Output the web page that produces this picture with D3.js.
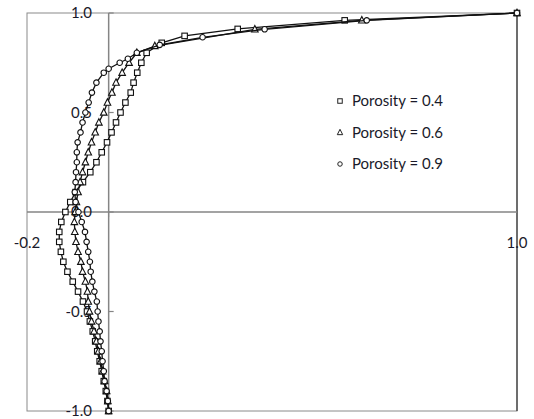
<!DOCTYPE html>
<html>
<head>
<meta charset="utf-8">
<script src="https://d3js.org/d3.v7.min.js"></script>
<style>
  body { margin: 0; background: #fff; }
  text { font-family: Lato, "Open Sans", sans-serif; fill: #1a1a2a; }
</style>
</head>
<body>
<script>
// y positions (normalised depth) and x values
const ySq = [-1, -0.95, -0.9, -0.85, -0.8, -0.75, -0.7, -0.65, -0.6, -0.55, -0.5, -0.45, -0.4, -0.35, -0.3, -0.25, -0.2, -0.15, -0.1, -0.05, 0, 0.05, 0.1, 0.15, 0.2, 0.25, 0.3, 0.35, 0.4, 0.45, 0.5, 0.55, 0.6, 0.65, 0.7, 0.75, 0.8, 0.85, 0.885, 0.92, 0.963, 1];
const xSq = [0, -0.003, -0.007, -0.012, -0.017, -0.022, -0.028, -0.033, -0.039, -0.046, -0.053, -0.063, -0.075, -0.088, -0.101, -0.111, -0.117, -0.121, -0.121, -0.116, -0.106, -0.094, -0.081, -0.063, -0.045, -0.03, -0.017, -0.004, 0.007, 0.018, 0.029, 0.041, 0.054, 0.061, 0.07, 0.08, 0.093, 0.13, 0.186, 0.316, 0.578, 1];

const yTri = [-1, -0.95, -0.9, -0.85, -0.8, -0.75, -0.7, -0.65, -0.6, -0.55, -0.5, -0.45, -0.4, -0.35, -0.3, -0.25, -0.2, -0.15, -0.1, -0.05, 0, 0.05, 0.1, 0.15, 0.2, 0.25, 0.3, 0.35, 0.4, 0.45, 0.5, 0.55, 0.6, 0.65, 0.7, 0.75, 0.8, 0.834, 0.918, 0.963, 1];
const xTri = [0, -0.002, -0.005, -0.01, -0.015, -0.02, -0.025, -0.03, -0.036, -0.042, -0.047, -0.05, -0.052, -0.057, -0.064, -0.068, -0.075, -0.08, -0.083, -0.084, -0.082, -0.079, -0.075, -0.07, -0.064, -0.057, -0.05, -0.042, -0.033, -0.024, -0.012, -0.003, 0.008, 0.018, 0.033, 0.05, 0.069, 0.113, 0.358, 0.62, 1];

const yCir = [-1, -0.95, -0.9, -0.85, -0.8, -0.75, -0.7, -0.65, -0.6, -0.55, -0.5, -0.45, -0.4, -0.35, -0.3, -0.25, -0.2, -0.15, -0.1, -0.05, 0, 0.05, 0.1, 0.15, 0.2, 0.25, 0.3, 0.35, 0.4, 0.45, 0.5, 0.55, 0.6, 0.65, 0.7, 0.72, 0.75, 0.77, 0.8, 0.84, 0.878, 0.918, 0.963, 1];
const xCir = [0, -0.002, -0.005, -0.01, -0.012, -0.015, -0.017, -0.02, -0.022, -0.025, -0.027, -0.029, -0.035, -0.04, -0.044, -0.046, -0.05, -0.054, -0.058, -0.066, -0.074, -0.081, -0.083, -0.081, -0.08, -0.078, -0.078, -0.076, -0.069, -0.064, -0.057, -0.049, -0.041, -0.03, -0.012, 0, 0.027, 0.047, 0.069, 0.125, 0.23, 0.382, 0.632, 1];

const seriesNames = ["Porosity = 0.4", "Porosity = 0.6", "Porosity = 0.9"];
const seriesShapes = ["square", "triangle", "circle"];
const yTicks = [1, 0.5, 0, -0.5, -1];
const xTicks = [-0.2, 1];

const W = 534, H = 419;
const pLeft = 27, pRight = 517, pTop = 13, pBottom = 411;

const x = d3.scaleLinear().domain([-0.2, 1]).range([pLeft, pRight]);
const y = d3.scaleLinear().domain([-1, 1]).range([pBottom, pTop]);

const svg = d3.select("body").append("svg").attr("width", W).attr("height", H);

// plot frame
svg.append("rect")
  .attr("x", pLeft).attr("y", pTop)
  .attr("width", pRight - pLeft).attr("height", pBottom - pTop)
  .attr("fill", "none").attr("stroke", "#8a8a8a").attr("stroke-width", 1);
svg.append("line")
  .attr("x1", pRight).attr("x2", pRight).attr("y1", pTop).attr("y2", pBottom)
  .attr("stroke", "#333").attr("stroke-width", 1.2);

// axes through the origin
svg.append("line")
  .attr("x1", pLeft).attr("x2", pRight).attr("y1", y(0)).attr("y2", y(0))
  .attr("stroke", "#858585").attr("stroke-width", 1.5);
svg.append("line")
  .attr("x1", x(0)).attr("x2", x(0)).attr("y1", pTop).attr("y2", pBottom)
  .attr("stroke", "#858585").attr("stroke-width", 1.5);

// small tick marks on the y axis
svg.append("g").selectAll("line")
  .data(yTicks)
  .enter().append("line")
    .attr("x1", x(0)).attr("x2", x(0) + 5)
    .attr("y1", d => y(d)).attr("y2", d => y(d))
    .attr("stroke", "#858585").attr("stroke-width", 1.2);
svg.append("line")
  .attr("x1", x(0)).attr("x2", x(0)).attr("y1", y(0)).attr("y2", y(0) + 5)
  .attr("stroke", "#858585");

// tick labels
svg.append("g").selectAll("text")
  .data(yTicks)
  .enter().append("text")
    .attr("x", 92).attr("y", d => y(d))
    .attr("dy", "0.35em")
    .attr("text-anchor", "end")
    .attr("font-size", 15)
    .text(d => d.toFixed(1));
svg.append("g").selectAll("text")
  .data(xTicks)
  .enter().append("text")
    .attr("x", d => x(d)).attr("y", 243)
    .attr("dy", "0.35em")
    .attr("text-anchor", "middle")
    .attr("font-size", 15)
    .text(d => d.toFixed(1));

const series = [
  d3.zip(xSq, ySq),
  d3.zip(xTri, yTri),
  d3.zip(xCir, yCir)
];

const line = d3.line().x(d => x(d[0])).y(d => y(d[1]));

function marker(g, shape, size) {
  if (shape === "square") {
    g.append("rect").attr("x", -size / 2).attr("y", -size / 2)
      .attr("width", size).attr("height", size);
  } else if (shape === "triangle") {
    const s = size * 0.6;
    g.append("path").attr("d", `M0,${-s - 0.5}L${s},${s * 0.8}L${-s},${s * 0.8}Z`);
  } else {
    g.append("circle").attr("r", size / 2);
  }
}

series.forEach((pts, i) => {
  svg.append("path")
    .datum(pts)
    .attr("d", line)
    .attr("fill", "none")
    .attr("stroke", "#111")
    .attr("stroke-width", 1.3);
  const g = svg.append("g")
    .attr("fill", "#fff").attr("stroke", "#111").attr("stroke-width", 1.1);
  g.selectAll("g")
    .data(pts)
    .enter().append("g")
      .attr("transform", d => `translate(${x(d[0])},${y(d[1])})`)
      .each(function() { marker(d3.select(this), seriesShapes[i], 5.5); });
});

// legend
const legend = svg.append("g").attr("transform", "translate(340,101)");
seriesNames.forEach((name, i) => {
  const row = legend.append("g").attr("transform", `translate(0,${i * 31.5})`);
  const m = row.append("g").attr("fill", "#fff").attr("stroke", "#222").attr("stroke-width", 1);
  marker(m, seriesShapes[i], 4.5);
  row.append("text")
    .attr("x", 12).attr("y", 0).attr("dy", "0.35em")
    .attr("font-size", 15)
    .text(name);
});
</script>
</body>
</html>
